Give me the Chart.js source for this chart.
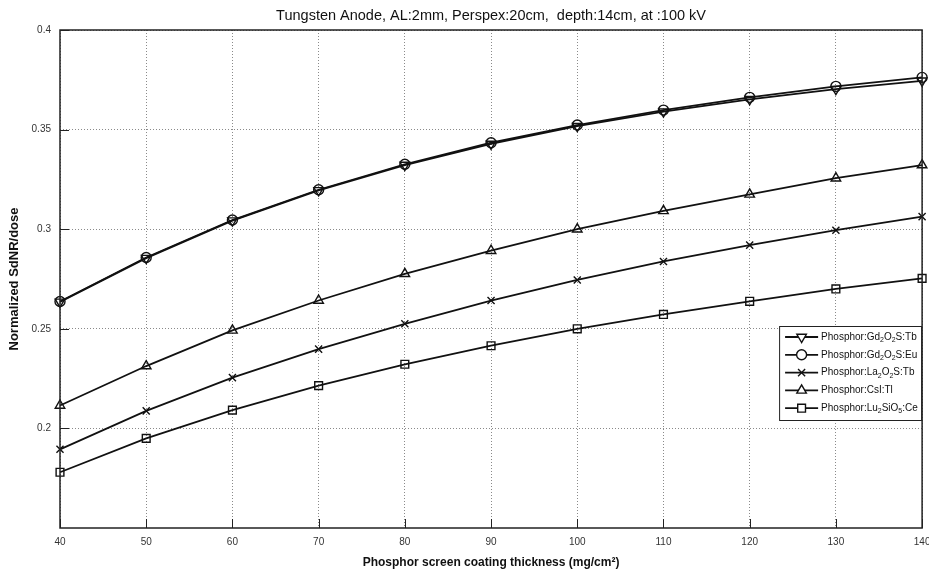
<!DOCTYPE html>
<html>
<head>
<meta charset="utf-8">
<script src="https://cdn.jsdelivr.net/npm/chart.js@4.4.0/dist/chart.umd.min.js"></script>
<style>
  html, body { margin: 0; padding: 0; background: #fff; }
  #wrap { width: 929px; height: 572px; }
</style>
</head>
<body>
<div id="wrap"><canvas id="sdnrChart" width="929" height="572"></canvas></div>
<script>
// --- datos ---
const espesores = [40, 50, 60, 70, 80, 90, 100, 110, 120, 130, 140];
const gdTb = [0.2635, 0.2855, 0.3043, 0.3195, 0.3322, 0.3428, 0.3517, 0.3590, 0.3652, 0.3703, 0.3745];
const gdEu = [0.2637, 0.2858, 0.3046, 0.3198, 0.3326, 0.3434, 0.3523, 0.3598, 0.3662, 0.3717, 0.3762];
const laTb = [0.1895, 0.2088, 0.2255, 0.2398, 0.2525, 0.2642, 0.2745, 0.2838, 0.2920, 0.2995, 0.3063];
const csiTl = [0.2115, 0.2313, 0.2492, 0.2642, 0.2776, 0.2892, 0.3000, 0.3092, 0.3175, 0.3256, 0.3322];
const luCe = [0.1780, 0.1950, 0.2092, 0.2215, 0.2322, 0.2415, 0.2500, 0.2572, 0.2638, 0.2700, 0.2753];

const seriesLabels = ['Phosphor:Gd_2O_2S:Tb', 'Phosphor:Gd_2O_2S:Eu', 'Phosphor:La_2O_2S:Tb', 'Phosphor:CsI:Tl', 'Phosphor:Lu_2SiO_5:Ce'];
const yTicks = [0.2, 0.25, 0.3, 0.35, 0.4];
const yTickLabels = ['0.2', '0.25', '0.3', '0.35', '0.4'];

Chart.defaults.font.family = "'Liberation Sans', Arial, Helvetica, sans-serif";
Chart.defaults.color = '#222';

function toPoints(vals) {
    return vals.map((v, i) => ({ x: espesores[i], y: v }));
}

// estilo de cada serie (marcador tipo matlab)
const estilos = [
    { pointStyle: 'triangle', rotation: 180, radius: 5.5 },
    { pointStyle: 'circle', rotation: 0, radius: 5 },
    { pointStyle: 'crossRot', rotation: 0, radius: 5 },
    { pointStyle: 'triangle', rotation: 0, radius: 5.5 },
    { pointStyle: 'rect', rotation: 0, radius: 5.5 }
];

const valores = [gdTb, gdEu, laTb, csiTl, luCe];

const datasets = valores.map((vals, i) => ({
    label: seriesLabels[i],
    data: toPoints(vals),
    borderColor: '#111',
    borderWidth: 1.8,
    pointStyle: estilos[i].pointStyle,
    pointRotation: estilos[i].rotation,
    pointRadius: estilos[i].radius,
    pointBorderWidth: 1.4,
    pointBorderColor: '#111',
    pointBackgroundColor: 'rgba(0,0,0,0)',
    tension: 0,
    clip: false
}));

// dibuja texto con subindices marcados con "_"
function drawSubText(ctx, text, x, y) {
    let cx = x;
    for (let k = 0; k < text.length; k++) {
        const ch = text[k];
        if (ch === '_' && k + 1 < text.length) {
            const sub = text[k + 1];
            ctx.font = "7px 'Liberation Sans', Arial, sans-serif";
            ctx.fillText(sub, cx, y + 3);
            cx += ctx.measureText(sub).width;
            k++;
        } else {
            ctx.font = "10px 'Liberation Sans', Arial, sans-serif";
            ctx.fillText(ch, cx, y);
            cx += ctx.measureText(ch).width;
        }
    }
}

// marco, ticks hacia adentro y leyenda estilo matlab
const marcoMatlab = {
    id: 'marcoMatlab',
    afterDatasetsDraw(chart) {
        const { ctx, chartArea: a, scales } = chart;
        ctx.save();
        ctx.strokeStyle = '#222';
        ctx.lineWidth = 1;
        ctx.beginPath();
        espesores.forEach(v => {
            const px = Math.round(scales.x.getPixelForValue(v)) + 0.5;
            ctx.moveTo(px, a.bottom);
            ctx.lineTo(px, a.bottom - 9);
        });
        yTicks.forEach(v => {
            const py = Math.round(scales.y.getPixelForValue(v)) + 0.5;
            ctx.moveTo(a.left, py);
            ctx.lineTo(a.left + 9, py);
        });
        ctx.stroke();
        ctx.lineWidth = 1.5;
        ctx.strokeRect(a.left, a.top, a.right - a.left, a.bottom - a.top);
        ctx.restore();
    },
    afterDraw(chart) {
        const { ctx, chartArea: a } = chart;
        const w = 142, h = 94;
        const bx = a.right - w - 1, by = 326;
        ctx.save();
        ctx.fillStyle = '#fff';
        ctx.fillRect(bx, by, w, h);
        ctx.strokeStyle = '#222';
        ctx.lineWidth = 1;
        ctx.strokeRect(bx + 0.5, by + 0.5, w, h);
        chart.data.datasets.forEach((ds, i) => {
            const ly = by + 11 + i * 17.8;
            ctx.strokeStyle = '#111';
            ctx.lineWidth = 1.8;
            ctx.beginPath();
            ctx.moveTo(bx + 6, ly);
            ctx.lineTo(bx + 39, ly);
            ctx.stroke();
            ctx.lineWidth = 1.4;
            ctx.fillStyle = '#fff';
            Chart.helpers.drawPoint(ctx, {
                pointStyle: ds.pointStyle,
                rotation: ds.pointRotation,
                radius: ds.pointRadius,
                borderWidth: 1.4
            }, bx + 22.5, ly);
            ctx.fillStyle = '#111';
            ctx.textBaseline = 'middle';
            ctx.textAlign = 'left';
            drawSubText(ctx, ds.label, bx + 42, ly);
        });
        ctx.restore();
    }
};

new Chart(document.getElementById('sdnrChart'), {
    type: 'line',
    data: { datasets: datasets },
    options: {
        responsive: false,
        devicePixelRatio: 1,
        animation: false,
        layout: { padding: { right: 6 } },
        plugins: {
            legend: { display: false },
            tooltip: { enabled: false },
            title: {
                display: true,
                fullSize: false,
                text: 'Tungsten Anode, AL:2mm, Perspex:20cm,  depth:14cm, at :100 kV',
                color: '#111',
                font: { size: 14.5, weight: 'normal' },
                padding: { top: 7, bottom: 5.6 }
            }
        },
        scales: {
            x: {
                type: 'linear',
                min: 40,
                max: 140,
                ticks: { stepSize: 10, padding: 8, color: '#333', font: { size: 10 } },
                grid: { color: '#8a8a8a', drawTicks: false, lineWidth: 1 },
                border: { display: false, dash: [1, 2] },
                title: {
                    display: true,
                    text: 'Phosphor screen coating thickness (mg/cm²)',
                    color: '#111',
                    font: { size: 12, weight: 'bold' },
                    padding: { top: 4, bottom: 2 }
                },
                afterFit: (scale) => {
                    scale.height = 44;
                    scale.paddingLeft = 0;
                    scale.paddingRight = 0;
                }
            },
            y: {
                type: 'linear',
                min: 0.15,
                max: 0.4,
                afterBuildTicks: (scale) => { scale.ticks = yTicks.map(v => ({ value: v })); },
                ticks: {
                    padding: 9,
                    color: '#333',
                    font: { size: 10 },
                    callback: (value, index) => yTickLabels[index]
                },
                grid: { color: '#8a8a8a', drawTicks: false, lineWidth: 1 },
                border: { display: false, dash: [1, 2] },
                title: {
                    display: true,
                    text: 'Normalized SdNR/dose',
                    color: '#111',
                    font: { size: 13, weight: 'bold' },
                    padding: { top: 7, bottom: 0 }
                },
                afterFit: (scale) => {
                    scale.width = 60;
                    scale.paddingTop = 0;
                    scale.paddingBottom = 0;
                }
            }
        }
    },
    plugins: [marcoMatlab]
});
</script>
</body>
</html>
